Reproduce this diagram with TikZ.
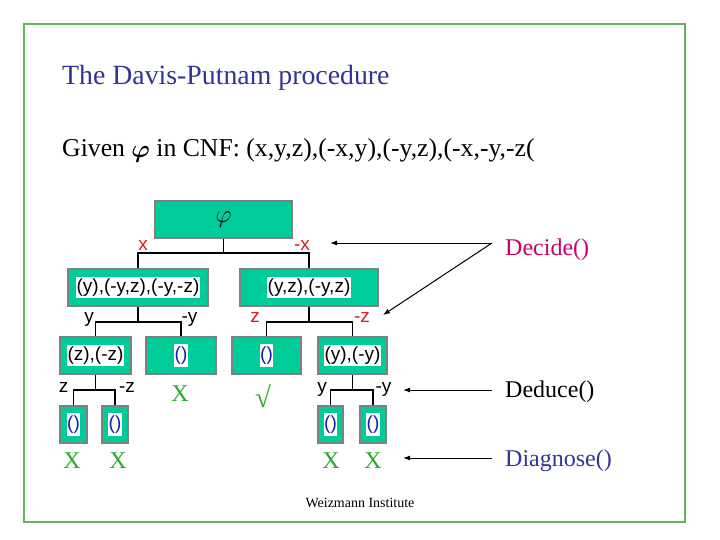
\documentclass[tikz,border=0pt]{standalone}
\usepackage{fontspec}
\usepackage{amsmath}
\setmainfont{Liberation Serif}
\newfontfamily\treefont{Liberation Sans}
\usetikzlibrary{arrows.meta}
\definecolor{boxgreen}{RGB}{0,204,153}
\definecolor{titleblue}{RGB}{51,51,153}
\definecolor{decred}{RGB}{204,0,102}
\definecolor{labred}{RGB}{220,30,30}
\definecolor{xgreen}{RGB}{40,170,40}
\definecolor{framegreen}{RGB}{100,180,90}
\definecolor{parblue}{RGB}{20,30,170}
\begin{document}
\begin{tikzpicture}[x=1pt,y=-1pt,
  tbox/.style={draw=gray, line width=1.5pt, fill=boxgreen, minimum height=37pt, inner sep=0pt},
  ttxt/.style={fill=white, inner xsep=1pt, inner ysep=2pt, font=\treefont\fontsize{19}{19}\selectfont},
  tempty/.style={fill=white, inner xsep=0.5pt, inner ysep=3pt, text=parblue, font=\treefont\fontsize{19}{19}\selectfont},
  lab/.style={font=\treefont\fontsize{19}{19}\selectfont, inner sep=0pt, anchor=base},
  conn/.style={line width=1.5pt},
  arr/.style={line width=1pt, -{Latex[length=7pt,width=5pt]}},
  xmark/.style={text=xgreen, font=\fontsize{24}{24}\selectfont, inner sep=0pt, anchor=base},
  side/.style={font=\fontsize{24}{24}\selectfont, inner sep=0pt, anchor=base west}
]
\useasboundingbox (0,0) rectangle (720,540);
\draw[framegreen, line width=1.2pt] (24,24) rectangle (685,522);

\node[anchor=base west, inner sep=0pt, text=titleblue, font=\fontsize{27.8}{27.8}\selectfont] (title) at (62,85) {The Davis-Putnam procedure};
\node[anchor=base west, inner sep=0pt, font=\fontsize{25.7}{25.7}\selectfont] (given) at (62,157) {Given \raisebox{-1pt}{\fontsize{31}{31}\selectfont$\boldsymbol{\varphi}$} in CNF: (x,y,z),(-x,y),(-y,z),(-x,-y,-z(};

% tree boxes
\node[tbox, minimum width=137pt] (root) at (223.5,219.5) {\fontsize{28}{28}\selectfont$\varphi$};
\node[tbox, minimum width=140pt] (L) at (138,287.5) {};
\node[ttxt] (Lt) at (L) {(y),(-y,z),(-y,-z)};
\node[tbox, minimum width=138pt] (R) at (309,287.5) {};
\node[ttxt] (Rt) at (R) {(y,z),(-y,z)};
\node[tbox, minimum width=71pt] (LL) at (95.5,355.5) {};
\node[ttxt] (LLt) at (LL) {(z),(-z)};
\node[tbox, minimum width=70pt] (LR) at (181,355.5) {};
\node[tempty] (LRt) at (LR) {()};
\node[tbox, minimum width=69pt] (RL) at (266.5,355.5) {};
\node[tempty] (RLt) at (RL) {()};
\node[tbox, minimum width=69pt] (RR) at (352.5,355.5) {};
\node[ttxt] (RRt) at (RR) {(y),(-y)};
\node[tbox, minimum width=27pt] (LLL) at (73.5,424.5) {};
\node[tempty] (LLLt) at (LLL) {()};
\node[tbox, minimum width=26pt] (LLR) at (115,424.5) {};
\node[tempty] (LLRt) at (LLR) {()};
\node[tbox, minimum width=25pt] (RRL) at (330.5,424.5) {};
\node[tempty] (RRLt) at (RRL) {()};
\node[tbox, minimum width=26pt] (RRR) at (373,424.5) {};
\node[tempty] (RRRt) at (RRR) {()};

% connectors
\coordinate (j1) at (223.5,253);
\draw[conn] (root.south) -- (j1);
\draw[conn] (L.north) |- (j1) -| (R.north);
\coordinate (j2) at (138,322);
\draw[conn] (L.south) -- (j2);
\draw[conn] (LL.north) |- (j2) -| (LR.north);
\coordinate (j3) at (309,322);
\draw[conn] (R.south) -- (j3);
\draw[conn] (RL.north) |- (j3) -| (RR.north);
\coordinate (j4) at (95.5,390);
\draw[conn] (LL.south) -- (j4);
\draw[conn] (LLL.north) |- (j4) -| (LLR.north);
\coordinate (j5) at (352.5,390);
\draw[conn] (RR.south) -- (j5);
\draw[conn] (RRL.north) |- (j5) -| (RRR.north);

% branch labels
\node[lab, text=labred] (lx) at (143,250) {x};
\node[lab, text=labred] (lnx) at (302,250) {-x};
\node[lab] (ly) at (89,322) {y};
\node[lab] (lny) at (189.5,322) {-y};
\node[lab, text=labred] (lz) at (255,322) {z};
\node[lab, text=labred] (lnz) at (362,322) {-z};
\node[lab] (lz2) at (63.5,392) {z};
\node[lab] (lnz2) at (127,392) {-z};
\node[lab] (ly2) at (322,392) {y};
\node[lab] (lny2) at (383.5,392) {-y};

% results
\node[xmark] (x1) at (180,401) {X};
\node[text=xgreen, inner sep=0pt, font=\fontsize{29}{29}\selectfont] (ok) at (263,396) {√};
\node[xmark] (x2) at (72,468) {X};
\node[xmark] (x3) at (118,468) {X};
\node[xmark] (x4) at (331,468) {X};
\node[xmark] (x5) at (373,468) {X};

% side labels
\node[side, text=decred] (dec) at (505,255) {Decide()};
\node[side] (ded) at (505,397) {Deduce()};
\node[side, text=titleblue] (dia) at (505,466) {Diagnose()};
\coordinate (d0) at (492,243);
\coordinate (a1) at (330,243);
\coordinate (a2) at (383,315);
\coordinate (e0) at (492,390);
\coordinate (e1) at (403,390);
\coordinate (f0) at (492,458);
\coordinate (f1) at (403,458);
\draw[arr] (d0) -- (a1);
\draw[arr] (d0) -- (a2);
\draw[arr] (e0) -- (e1);
\draw[arr] (f0) -- (f1);

\node[inner sep=0pt, font=\fontsize{14}{14}\selectfont] (wi) at (360,503) {Weizmann Institute};
\end{tikzpicture}
\end{document}
